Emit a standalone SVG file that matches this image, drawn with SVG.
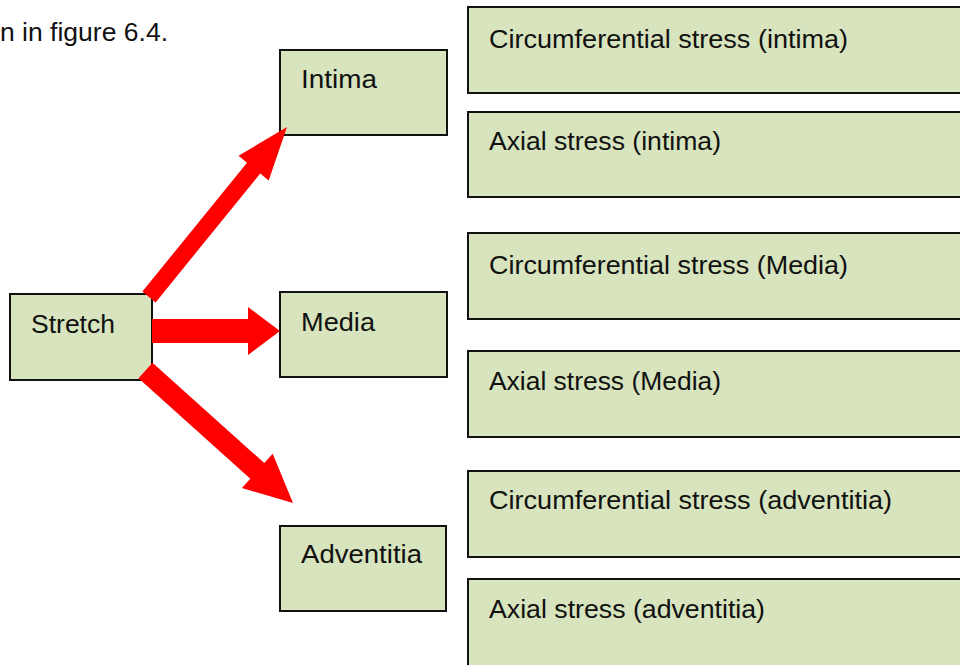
<svg xmlns="http://www.w3.org/2000/svg" width="960" height="665" viewBox="0 0 960 665">
  <style>
    .box { fill: #d7e4bd; stroke: #111; stroke-width: 2; }
    .lbl { font-family: "Liberation Sans", Arial, sans-serif; font-size: 26px; fill: #111; }
    .arrow { fill: #ff0000; }
  </style>
  <rect width="960" height="665" fill="#ffffff"/>

  <text class="lbl" x="0" y="41" textLength="168" lengthAdjust="spacingAndGlyphs">n in figure 6.4.</text>

  <!-- right-hand stress boxes -->
  <g id="circ-intima">
    <rect class="box" x="468" y="7" width="500" height="86"/>
    <text class="lbl" x="489" y="48" textLength="359" lengthAdjust="spacingAndGlyphs">Circumferential stress (intima)</text>
  </g>
  <g id="axial-intima">
    <rect class="box" x="468" y="112" width="500" height="85"/>
    <text class="lbl" x="489" y="150" textLength="232" lengthAdjust="spacingAndGlyphs">Axial stress (intima)</text>
  </g>
  <g id="circ-media">
    <rect class="box" x="468" y="233" width="500" height="86"/>
    <text class="lbl" x="489" y="274" textLength="359" lengthAdjust="spacingAndGlyphs">Circumferential stress (Media)</text>
  </g>
  <g id="axial-media">
    <rect class="box" x="468" y="351" width="500" height="86"/>
    <text class="lbl" x="489" y="390" textLength="232" lengthAdjust="spacingAndGlyphs">Axial stress (Media)</text>
  </g>
  <g id="circ-adventitia">
    <rect class="box" x="468" y="471" width="500" height="86"/>
    <text class="lbl" x="489" y="509" textLength="403" lengthAdjust="spacingAndGlyphs">Circumferential stress (adventitia)</text>
  </g>
  <g id="axial-adventitia">
    <rect class="box" x="468" y="579" width="500" height="100"/>
    <text class="lbl" x="489" y="618" textLength="276" lengthAdjust="spacingAndGlyphs">Axial stress (adventitia)</text>
  </g>

  <!-- layer boxes -->
  <g id="intima">
    <rect class="box" x="280" y="50" width="167" height="85"/>
    <text class="lbl" x="301" y="88" textLength="76" lengthAdjust="spacingAndGlyphs">Intima</text>
  </g>
  <g id="media">
    <rect class="box" x="280" y="292" width="167" height="85"/>
    <text class="lbl" x="301" y="331" textLength="74" lengthAdjust="spacingAndGlyphs">Media</text>
  </g>
  <g id="adventitia">
    <rect class="box" x="280" y="526" width="166" height="85"/>
    <text class="lbl" x="301" y="563" textLength="121" lengthAdjust="spacingAndGlyphs">Adventitia</text>
  </g>

  <g id="stretch">
    <rect class="box" x="10" y="294" width="142" height="86"/>
    <text class="lbl" x="31" y="333" textLength="84" lengthAdjust="spacingAndGlyphs">Stretch</text>
  </g>

  <!-- block arrows from Stretch to each layer -->
  <g id="connectors">
    <polygon class="arrow" points="142.4,291.6 247,162.7 238.5,155.8 287,127 268.7,180.4 260.2,173.5 155.6,302.4"/>
    <polygon class="arrow" points="152,319 248,319 248,307 280,331 248,355 248,343 152,343"/>
    <polygon class="arrow" points="138.5,378.3 250.3,478.7 241.9,488 293,503 272.7,453.8 264.3,463.1 152.5,362.7"/>
  </g>
</svg>
